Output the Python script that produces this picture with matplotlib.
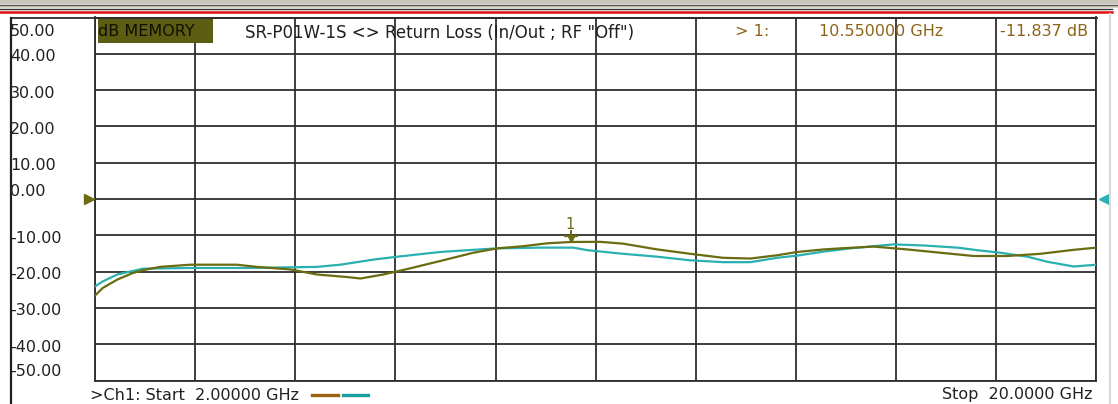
import matplotlib
matplotlib.use("Agg")
import matplotlib.pyplot as plt
from matplotlib.lines import Line2D
from matplotlib.patches import Rectangle
from matplotlib.transforms import offset_copy, blended_transform_factory
import numpy as np

plt.rcParams['font.family'] = ['DejaVu Sans']

# memory trace (olive) and live data trace (teal), GHz / dB
freq_mem = [2.00, 2.14, 2.40, 2.68, 2.86, 3.17, 3.71, 4.55, 4.91, 5.51, 5.99, 6.53, 6.77,
            7.18, 7.61, 8.20, 8.80, 9.23, 9.70, 10.13, 10.55, 11.08, 11.49, 12.11, 12.70,
            13.29, 13.78, 14.26, 14.62, 15.09, 15.40, 15.99, 16.60, 17.19, 17.79, 18.40,
            18.99, 19.59, 20.00]
db_mem = [-26.6, -24.5, -22.2, -20.4, -19.6, -18.7, -18.1, -18.1, -18.7, -19.4, -20.8, -21.5,
          -21.9, -20.8, -19.3, -17.1, -14.8, -13.6, -13.0, -12.2, -11.84, -11.8, -12.3, -13.9,
          -15.1, -16.2, -16.4, -15.5, -14.6, -13.9, -13.6, -13.1, -13.9, -14.8, -15.7, -15.7,
          -15.1, -14.0, -13.4]

freq_data = [2.00, 2.14, 2.40, 2.86, 3.71, 4.79, 5.99, 6.41, 7.00, 7.43, 8.20, 8.80, 9.23,
             10.00, 10.60, 10.85, 11.49, 12.11, 12.70, 13.29, 13.78, 14.26, 14.62, 15.09,
             15.58, 16.35, 16.89, 17.50, 17.91, 18.27, 18.76, 19.12, 19.59, 20.00]
db_data = [-24.1, -22.7, -20.8, -19.2, -19.0, -19.0, -18.7, -18.1, -16.7, -15.9, -14.6, -14.0,
           -13.6, -13.4, -13.4, -14.1, -15.1, -15.9, -16.9, -17.4, -17.4, -16.2, -15.6, -14.5,
           -13.6, -12.5, -12.8, -13.4, -14.2, -14.8, -15.9, -17.3, -18.6, -18.1]

y_ticks = [50, 40, 30, 20, 10, 0, -10, -20, -30, -40, -50]
y_labels = ["50.00", "40.00", "30.00", "20.00", "10.00", "0.00", "-10.00", "-20.00",
            "-30.00", "-40.00", "-50.00"]

marker_freq = 10.55
marker_db = -11.837
f_start, f_stop = 2.0, 20.0

title_text = 'SR-P01W-1S <> Return Loss (In/Out ; RF "Off")'

OLIVE = '#6b6b12'
TEAL = '#2ab0b0'
BROWN = '#8c6418'
GRID = '#2e2e2e'
FS = 11.5

W, H = 1118, 404
fig = plt.figure(figsize=(W / 100, H / 100), dpi=100)
fig.patch.set_facecolor('white')


def fx(px):
    return px / W


def fy(py):
    return 1 - py / H


ax = fig.add_axes([fx(95), fy(380.5), fx(1096.5) - fx(95), fy(17.5) - fy(380.5)])
ax.set_xlim(f_start, f_stop)
ax.set_ylim(-50, 50)
ax.set_facecolor('white')
for s in ax.spines.values():
    s.set_color(GRID)
    s.set_linewidth(1.3)
    s.set_zorder(4)
ax.set_xticks([])
ax.set_yticks([])

# graticule
for f in np.linspace(f_start, f_stop, 11):
    ax.axvline(f, color=GRID, lw=1.3, zorder=4)
for v in y_ticks:
    ax.axhline(v, color=GRID, lw=1.3, zorder=4)

# traces
ax.plot(freq_mem, db_mem, color=OLIVE, lw=1.6, zorder=6)
ax.plot(freq_data, db_data, color=TEAL, lw=1.6, zorder=5)

# marker 1
t_bar = offset_copy(ax.transData, fig=fig, x=0, y=4.6, units='points')
t_tri = offset_copy(ax.transData, fig=fig, x=0, y=2.4, units='points')
t_stem = offset_copy(ax.transData, fig=fig, x=0, y=6.5, units='points')
t_num = offset_copy(ax.transData, fig=fig, x=-0.7, y=12.5, units='points')
ax.plot([marker_freq], [marker_db], marker='_', ms=10, mew=1.6, color=OLIVE,
        transform=t_bar, zorder=7)
ax.plot([marker_freq], [marker_db], marker='v', ms=4.5, color=OLIVE, mec=OLIVE,
        transform=t_tri, zorder=7)
ax.plot([marker_freq], [marker_db], marker='|', ms=4, mew=1.4, color=OLIVE,
        transform=t_stem, zorder=7)
ax.text(marker_freq, marker_db, "1", transform=t_num, ha='center', va='center',
        fontsize=10.5, color=OLIVE, zorder=7)

# y labels on the left
lab_tr = blended_transform_factory(fig.transFigure, ax.transData)
for v, lab in zip(y_ticks, y_labels):
    if v == 50:
        tr, va = offset_copy(lab_tr, fig=fig, y=-7, units='dots'), 'top'
    elif v == -50:
        tr, va = offset_copy(lab_tr, fig=fig, y=1, units='dots'), 'bottom'
    elif v == 0:
        tr, va = offset_copy(lab_tr, fig=fig, y=7, units='dots'), 'center'
    else:
        tr, va = offset_copy(lab_tr, fig=fig, y=-3, units='dots'), 'center'
    fig.text(fx(10), v, lab, transform=tr, ha='left', va=va, fontsize=FS,
             color='#202020')

# header row texts
fig.patches.append(Rectangle((fx(98), fy(43)), fx(213) - fx(98), fy(18.5) - fy(43),
                             transform=fig.transFigure, facecolor='#5c5c12',
                             edgecolor='none', zorder=1))
fig.text(fx(98), fy(31), "dB MEMORY", fontsize=FS, color='#101000', va='center',
         ha='left', zorder=2)
fig.text(fx(245), fy(33), title_text, fontsize=12, color='#202020', va='center',
         ha='left', zorder=2)
fig.text(fx(735), fy(31), "> 1:", fontsize=FS, color=BROWN, va='center', ha='left')
fig.text(fx(819), fy(31), f"{marker_freq:.6f} GHz", fontsize=FS, color=BROWN,
         va='center', ha='left')
fig.text(fx(1000), fy(31), f"{marker_db:.3f} dB", fontsize=FS, color=BROWN,
         va='center', ha='left')

# footer
fig.text(fx(90), fy(395), f">Ch1: Start  {f_start:.5f} GHz", fontsize=FS,
         color='#202020', va='center', ha='left')
fig.text(fx(1093), fy(395), f"Stop  {f_stop:.4f} GHz", fontsize=FS,
         color='#202020', va='center', ha='right')
fig.lines.append(Line2D([fx(312), fx(338)], [fy(395), fy(395)], transform=fig.transFigure,
                        color='#9a6410', lw=2.4))
fig.lines.append(Line2D([fx(343), fx(368)], [fy(395), fy(395)], transform=fig.transFigure,
                        color='#1aa0a0', lw=2.4))

# reference triangles at 0 dB
ref_tr = blended_transform_factory(fig.transFigure, ax.transData)
fig.lines.append(Line2D([fx(89)], [0], transform=ref_tr, marker='>', ms=7,
                        color=OLIVE, mec=OLIVE, ls='none'))
fig.lines.append(Line2D([fx(1104)], [0], transform=ref_tr, marker='<', ms=7,
                        color=TEAL, mec=TEAL, ls='none'))

# window chrome: top bars, frame lines
fig.patches.append(Rectangle((0, fy(4)), 1, fy(0) - fy(4), transform=fig.transFigure,
                             facecolor='#c9c5bb', edgecolor='none'))
fig.patches.append(Rectangle((0, fy(8)), 1, fy(5) - fy(8), transform=fig.transFigure,
                             facecolor='#d8d4c6', edgecolor='none'))
fig.lines.append(Line2D([0, 1], [fy(4.5), fy(4.5)], transform=fig.transFigure,
                        color='#505050', lw=1.0))
fig.lines.append(Line2D([0, fx(1112)], [fy(9), fy(9)], transform=fig.transFigure,
                        color='#303030', lw=1.0))
fig.lines.append(Line2D([0, fx(1112)], [fy(11.5), fy(11.5)], transform=fig.transFigure,
                        color='#e01010', lw=1.8))
fig.lines.append(Line2D([fx(11), fx(1096.5)], [fy(17.5), fy(17.5)],
                        transform=fig.transFigure, color=GRID, lw=1.3))
fig.lines.append(Line2D([fx(11), fx(11)], [fy(17.5), 0], transform=fig.transFigure,
                        color='#202020', lw=1.6))
fig.lines.append(Line2D([fx(1110), fx(1110)], [fy(14), 0], transform=fig.transFigure,
                        color='#d8d8d8', lw=1.5))

fig.savefig("out.png", dpi=100)
